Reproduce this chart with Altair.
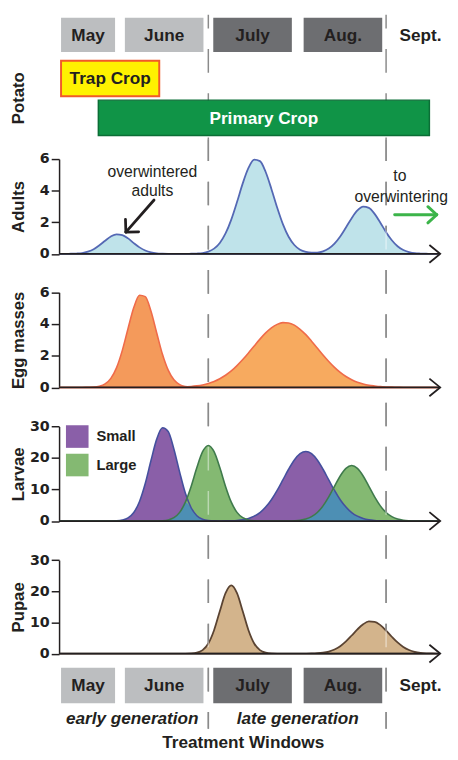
import altair as alt
import pandas as pd

# ---------------- data (days since May 1) ----------------
DAYS = [9, 11, 13, 15, 17, 19, 21, 23, 25, 27,
        29, 31, 33, 35, 37, 39, 41, 43, 45, 47,
        49, 51, 53, 55, 57, 59, 61, 63, 65, 67,
        69, 71, 73, 75, 77, 79, 81, 83, 85, 87,
        89, 91, 93, 95, 97, 99, 101, 103, 105, 107,
        109, 111, 113, 115, 117, 119, 121, 123, 125, 127,
        129, 131, 133, 135, 137, 139, 141]

ADULTS = [0, 0, 0.01, 0.02, 0.05, 0.14, 0.29, 0.54, 0.83, 1.10,
          1.24, 1.19, 0.98, 0.68, 0.41, 0.21, 0.09, 0.03, 0.01, 0,
          0, 0, 0, 0.01, 0.02, 0.05, 0.14, 0.33, 0.69, 1.29,
          2.17, 3.28, 4.46, 5.44, 5.96, 5.87, 5.18, 4.11, 2.93, 1.88,
          1.08, 0.56, 0.26, 0.12, 0.07, 0.08, 0.16, 0.34, 0.65, 1.10,
          1.67, 2.26, 2.75, 2.99, 2.91, 2.53, 1.97, 1.37, 0.86, 0.48,
          0.24, 0.11, 0.04, 0.02, 0.01, 0, 0]

EGGS_EARLY = [0, 0, 0, 0, 0, 0.01, 0.02, 0.07, 0.22, 0.57,
              1.25, 2.34, 3.72, 5.04, 5.82, 5.73, 4.81, 3.44, 2.09, 1.09,
              0.48, 0.18, 0.06, 0.02, 0, 0, 0, 0, 0, 0,
              0, 0, 0, 0, 0, 0, 0, 0, 0, 0,
              0, 0, 0, 0, 0, 0, 0, 0, 0, 0,
              0, 0, 0, 0, 0, 0, 0, 0, 0, 0,
              0, 0, 0, 0, 0, 0, 0]

EGGS_LATE = [0, 0, 0, 0, 0, 0, 0, 0, 0, 0,
             0, 0, 0, 0, 0, 0, 0, 0, 0, 0,
             0.01, 0.02, 0.04, 0.06, 0.10, 0.16, 0.25, 0.38, 0.55, 0.77,
             1.04, 1.38, 1.76, 2.18, 2.62, 3.05, 3.44, 3.76, 3.98, 4.09,
             4.07, 3.93, 3.67, 3.33, 2.92, 2.49, 2.05, 1.64, 1.27, 0.95,
             0.69, 0.49, 0.33, 0.22, 0.14, 0.09, 0.05, 0.03, 0.02, 0.01,
             0, 0, 0, 0, 0, 0, 0]

LARVAE_SMALL = [0, 0, 0, 0, 0, 0, 0, 0, 0, 0.02,
                0.08, 0.31, 1.00, 2.72, 6.21, 11.9, 19.2, 26.0, 29.6, 28.4,
                22.8, 15.5, 8.79, 4.21, 1.69, 0.57, 0.16, 0.04, 0.02, 0.04,
                0.09, 0.19, 0.41, 0.83, 1.54, 2.70, 4.42, 6.77, 9.72, 13.06,
                16.44, 19.38, 21.39, 22.1, 21.39, 19.38, 16.44, 13.06, 9.72, 6.77,
                4.42, 2.70, 1.54, 0.83, 0.41, 0.19, 0.09, 0.04, 0.01, 0,
                0, 0, 0, 0, 0, 0, 0]

LARVAE_LARGE = [0, 0, 0, 0, 0, 0, 0, 0, 0, 0,
                0, 0, 0, 0, 0, 0, 0, 0.02, 0.09, 0.34,
                1.06, 2.74, 5.98, 10.99, 16.96, 22.0, 24.0, 22.0, 16.96, 10.99,
                5.98, 2.74, 1.06, 0.34, 0.09, 0.02, 0, 0, 0, 0.01,
                0.03, 0.10, 0.26, 0.63, 1.38, 2.71, 4.80, 7.66, 11.0, 14.3,
                16.7, 17.6, 16.7, 14.3, 11.0, 7.66, 4.80, 2.71, 1.38, 0.63,
                0.26, 0.10, 0.03, 0.01, 0, 0, 0]

PUPAE = [0, 0, 0, 0, 0, 0, 0, 0, 0, 0,
         0, 0, 0, 0, 0, 0, 0, 0, 0, 0,
         0, 0, 0.01, 0.06, 0.30, 1.12, 3.26, 7.51, 13.6, 19.4,
         21.9, 19.4, 13.6, 7.51, 3.26, 1.12, 0.30, 0.06, 0.01, 0,
         0, 0, 0, 0.01, 0.04, 0.12, 0.30, 0.66, 1.32, 2.39,
         3.92, 5.81, 7.78, 9.42, 10.32, 10.21, 9.14, 7.40, 5.41, 3.58,
         2.14, 1.16, 0.57, 0.25, 0.10, 0.04, 0.01]

MONTHS = ["May", "June", "July", "Aug.", "Sept."]
MONTH_START = [9.63, 31.89, 62.72, 94.24, 128.5]
MONTH_END = [28.47, 59.30, 90.13, 121.65, 141.5]
MONTH_WINDOW = ["early", "early", "late", "late", "none"]

CROPS = ["Trap Crop", "Primary Crop"]
CROP_START = [9.63, 22.64]
CROP_END = [43.88, 138.1]

WINDOW_EDGES = [61, 123]  # July 1 and Sept. 1

# ---------------- styling ----------------
FONT = "Liberation Sans"
TICK_FONT = "DejaVu Sans"
INK = "#231f20"
LIGHT = "#bcbec0"
DARK = "#6d6e71"

X = alt.Scale(domain=[8.94, 142.55], nice=False, zero=False)
ONE = pd.DataFrame({"k": [0]})

series = pd.DataFrame({
    "day": DAYS, "adults": ADULTS, "eggs_early": EGGS_EARLY, "eggs_late": EGGS_LATE,
    "Small": LARVAE_SMALL, "Large": LARVAE_LARGE, "pupae": PUPAE,
})
months = pd.DataFrame({"month": MONTHS, "start": MONTH_START, "end": MONTH_END, "window": MONTH_WINDOW})
crops = pd.DataFrame({"crop": CROPS, "start": CROP_START, "end": CROP_END})
edges = pd.DataFrame({"day": WINDOW_EDGES})


def xq(field):
    return alt.X(f"{field}:Q", scale=X, axis=None)


def yscale(top, rng):
    return alt.Scale(domain=[0, top], range=rng, nice=False, zero=True)


def yaxis(title, ticks, rng):
    return alt.Axis(orient="left", title=title, values=ticks, grid=False,
                    domainColor=INK, domainWidth=1.5, tickColor=INK, tickWidth=1.5, tickSize=8,
                    labelFont=TICK_FONT, labelFontSize=14.5, labelFontWeight="bold", labelColor=INK,
                    labelPadding=2,
                    titleFont=FONT, titleFontSize=17, titleFontWeight="bold", titleColor=INK,
                    titleAngle=270, titleAlign="center", titleBaseline="alphabetic",
                    titleX=-36, titleY=(rng[0] + rng[1]) / 2)


def baseline(ysc):
    rule = alt.Chart(ONE).mark_rule(color=INK, strokeWidth=1.8).encode(
        x=alt.value(0), x2=alt.value(388), y=alt.YDatum(0, scale=ysc, axis=None))
    head = alt.Chart(ONE).mark_point(shape="M-1.22,-1L0,0L-1.22,1", size=324, filled=False,
                                     color=INK, strokeWidth=1.8, opacity=1).encode(
        x=alt.value(388), y=alt.YDatum(0, scale=ysc, axis=None))
    return [rule, head]


def seg(x1, y1, x2, y2, color, width):
    return alt.Chart(ONE).mark_rule(color=color, strokeWidth=width, strokeCap="round").encode(
        x=alt.value(x1), y=alt.value(y1), x2=alt.value(x2), y2=alt.value(y2))


def text(label, x, y, size=16, weight="normal", color=INK, style="normal", baseline="alphabetic", angle=0):
    return alt.Chart(ONE).mark_text(font=FONT, fontSize=size, fontWeight=weight, color=color,
                                    fontStyle=style, baseline=baseline, align="center",
                                    angle=angle).encode(
        x=alt.value(x), y=alt.value(y), text=alt.value(label))


# ---------------- month rows ----------------
def month_row(y0, y1):
    base = alt.Chart(months)
    early = base.transform_filter("datum.window == 'early'").mark_rect(color=LIGHT).encode(
        x=xq("start"), x2="end:Q", y=alt.value(y0), y2=alt.value(y1))
    late = base.transform_filter("datum.window == 'late'").mark_rect(color=DARK).encode(
        x=xq("start"), x2="end:Q", y=alt.value(y0), y2=alt.value(y1))
    labels = base.transform_calculate(mid="(datum.start + datum.end) / 2").mark_text(
        font=FONT, fontSize=17.5, fontWeight="bold", color=INK, baseline="middle").encode(
        x=xq("mid"), y=alt.value((y0 + y1) / 2 + 1), text="month:N")
    return [early, late, labels]


# ---------------- dashed window edges ----------------
edge_top = alt.Chart(edges).mark_rule(color="#8a8a8a", strokeWidth=1.5, strokeDash=[24, 21],
                                      strokeDashOffset=10).encode(
    x=xq("day"), y=alt.value(0), y2=alt.value(127))
edge_low = alt.Chart(edges).mark_rule(color="#2a2a2a", strokeWidth=1.5, strokeDash=[24, 21],
                                      strokeDashOffset=2).encode(
    x=xq("day"), y=alt.value(127), y2=alt.value(727))
edge_glow = alt.Chart(edges).mark_rule(color="#ffffff", opacity=0.45, strokeWidth=1.5,
                                       strokeDash=[24, 21], strokeDashOffset=2).encode(
    x=xq("day"), y=alt.value(127), y2=alt.value(727))

# ---------------- potato crops ----------------
trap = alt.Chart(crops).transform_filter("datum.crop == 'Trap Crop'")
primary = alt.Chart(crops).transform_filter("datum.crop == 'Primary Crop'")
trap_rect = trap.mark_rect(fill="#fff200", stroke="#f15a29", strokeWidth=2).encode(
    x=xq("start"), x2="end:Q", y=alt.value(47), y2=alt.value(83))
trap_text = trap.transform_calculate(mid="(datum.start + datum.end) / 2").mark_text(
    font=FONT, fontSize=17.5, fontWeight="bold", color=INK, baseline="middle").encode(
    x=xq("mid"), y=alt.value(66), text="crop:N")
primary_rect = primary.mark_rect(fill="#109447", stroke="#0b6e36", strokeWidth=1.5).encode(
    x=xq("start"), x2="end:Q", y=alt.value(87), y2=alt.value(123))
primary_text = primary.transform_calculate(mid="(datum.start + datum.end) / 2").mark_text(
    font=FONT, fontSize=17.5, fontWeight="bold", color="#ffffff", baseline="middle").encode(
    x=xq("mid"), y=alt.value(106), text="crop:N")
potato_label = text("Potato", -36, 85, size=17, weight="bold", angle=270)

# ---------------- adults ----------------
r_ad = [243.5, 147]
ys_ad = yscale(6, r_ad)
adults = [
    alt.Chart(series).mark_area(interpolate="monotone", fill="#bfe3ea", stroke="#5468b4",
                                strokeWidth=1.8).encode(
        x=xq("day"), y=alt.Y("adults:Q", scale=ys_ad, axis=yaxis("Adults", [0, 2, 4, 6], r_ad)),
        y2=alt.Y2Datum(0)),
    *baseline(ys_ad),
]

# ---------------- egg masses ----------------
r_eg = [379.5, 282.7]
ys_eg = yscale(6, r_eg)
eggs = [
    alt.Chart(series).mark_area(interpolate="monotone", fill="#f49a5b", stroke="#ef6b4a",
                                strokeWidth=1.6).encode(
        x=xq("day"), y=alt.Y("eggs_early:Q", scale=ys_eg, axis=yaxis("Egg masses", [0, 2, 4, 6], r_eg)),
        y2=alt.Y2Datum(0)),
    alt.Chart(series).mark_area(interpolate="monotone", fill="#f7aa5f", stroke="#ef6b4a",
                                strokeWidth=1.6).encode(
        x=xq("day"), y=alt.Y("eggs_late:Q", scale=ys_eg, axis=None), y2=alt.Y2Datum(0)),
    *baseline(ys_eg),
]

# ---------------- larvae ----------------
r_lv = [515.5, 419.3]
ys_lv = yscale(30, r_lv)
folded = alt.Chart(series).transform_fold(["Small", "Large"], as_=["stage", "count"])
larvae = [
    folded.mark_area(interpolate="monotone", opacity=1).encode(
        x=xq("day"),
        y=alt.Y("count:Q", scale=ys_lv, axis=yaxis("Larvae", [0, 10, 20, 30], r_lv), stack=None),
        y2=alt.Y2Datum(0),
        fill=alt.Fill("stage:N", scale=alt.Scale(domain=["Small", "Large"], range=["#8a5fa8", "#84b972"]),
                      legend=alt.Legend(title=None, orient="none", legendX=7, legendY=418,
                                        direction="vertical", symbolType="square", symbolSize=529,
                                        symbolStrokeWidth=0, symbolOpacity=1, padding=0,
                                        labelFont=FONT, labelFontSize=15, labelFontWeight="bold",
                                        labelColor=INK, rowPadding=6, labelOffset=8)),
    ),
    alt.Chart(series).transform_calculate(both="min(datum.Small, datum.Large)").mark_area(
        interpolate="monotone", fill="#4d8fb4").encode(
        x=xq("day"), y=alt.Y("both:Q", scale=ys_lv, axis=None), y2=alt.Y2Datum(0)),
    folded.mark_line(interpolate="monotone", strokeWidth=1.6).encode(
        x=xq("day"), y=alt.Y("count:Q", scale=ys_lv, axis=None),
        stroke=alt.Stroke("stage:N", scale=alt.Scale(domain=["Small", "Large"], range=["#45509e", "#3f7a4c"]),
                          legend=None)),
    *baseline(ys_lv),
]

# ---------------- pupae ----------------
r_pu = [650.5, 555.3]
ys_pu = yscale(30, r_pu)
pupae = [
    alt.Chart(series).mark_area(interpolate="monotone", fill="#d3b48c", stroke="#5a4332",
                                strokeWidth=1.8).encode(
        x=xq("day"), y=alt.Y("pupae:Q", scale=ys_pu, axis=yaxis("Pupae", [0, 10, 20, 30], r_pu)),
        y2=alt.Y2Datum(0)),
    *baseline(ys_pu),
]

# ---------------- bottom texts ----------------
generations = alt.Chart(months).transform_filter("datum.window != 'none'").transform_aggregate(
    s="min(start)", e="max(end)", groupby=["window"]).transform_calculate(
    mid="(datum.s + datum.e) / 2", label="datum.window + ' generation'").mark_text(
    font=FONT, fontSize=17.5, fontWeight="bold", fontStyle="italic", color=INK, baseline="middle").encode(
    x=xq("mid"), y=alt.value(717), text="label:N")

annotations = [
    text("overwintered", 95, 165.3, size=16),
    text("adults", 95, 184.3, size=16),
    seg(96.7, 188.7, 68, 221.3, INK, 2.8),
    seg(68, 221.3, 81, 221.0, INK, 2.8),
    seg(68, 221.3, 67.6, 208.3, INK, 2.8),
    text("to", 347, 169.3, size=16),
    text("overwintering", 348.3, 190.3, size=16),
    seg(341.7, 203.7, 384.5, 203.7, "#3cb44a", 3),
    seg(384.5, 203.7, 375.5, 195.5, "#3cb44a", 3),
    seg(384.5, 203.7, 375.5, 211.9, "#3cb44a", 3),
    text("Treatment Windows", 187.5, 742, size=17.5, weight="bold", baseline="middle"),
]

chart = alt.layer(
    edge_top, edge_low,
    *month_row(3, 38),
    trap_rect, trap_text, primary_rect, primary_text, potato_label,
    *adults, *eggs, *larvae, *pupae,
    edge_glow,
    *month_row(665, 701),
    generations,
    *annotations,
).resolve_scale(y="independent").resolve_axis(y="independent").properties(
    width=390, height=752,
    autosize=alt.AutoSizeParams(type="none"),
    padding={"left": 52, "top": 0, "right": 8, "bottom": 0},
    background="white",
).configure_view(stroke=None)

chart.save("out.html", embed_options={"renderer": "svg", "actions": False})
